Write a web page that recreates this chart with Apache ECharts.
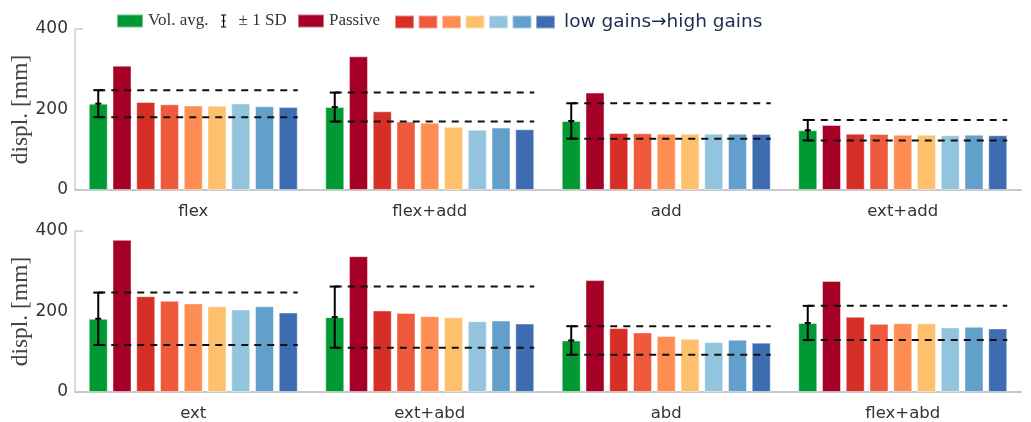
<!DOCTYPE html>
<html>
<head>
<meta charset="utf-8">
<script src="https://cdn.jsdelivr.net/npm/echarts@6/dist/echarts.min.js"></script>
<style>html,body{margin:0;padding:0;background:#fff;}#c{width:1031px;height:422px;}</style>
</head>
<body>
<div id="c"></div>
<script>
// ---- data ----
const categoriesTop = ['flex', 'flex+add', 'add', 'ext+add'];
const categoriesBottom = ['ext', 'ext+abd', 'abd', 'flex+abd'];
const yTicks = [0, 200, 400];

const volAvgTop = [214.5, 206, 171.5, 148.5];
const sdTop = [33.5, 36, 44, 25.5];
const passiveTop = [309, 332, 242, 161.5];
const gainsTop = [
  [218.6, 195.5, 141.6, 140],
  [213, 170, 140.8, 139],
  [210, 167, 140, 137.5],
  [209.5, 157, 140, 137.5],
  [215, 150, 140, 136],
  [208, 155, 140, 137.5],
  [206, 151, 139, 136]
];

const volAvgBottom = [182, 186, 128, 171.5];
const sdBottom = [65, 76, 35.5, 42.5];
const passiveBottom = [378, 337.5, 278, 276];
const gainsBottom = [
  [238, 202.5, 159, 187],
  [226.5, 196.5, 148, 169.5],
  [220, 188.5, 139, 171],
  [213, 186, 132.5, 171],
  [205, 176, 124, 160.5],
  [213, 177.5, 130, 162],
  [197.5, 170, 122.5, 158]
];

const gainNames = ['gain 1', 'gain 2', 'gain 3', 'gain 4', 'gain 5', 'gain 6', 'gain 7'];
const gainColors = ['#d62f27', '#ef5a3c', '#fd8d52', '#fec06c', '#93c4de', '#629fca', '#3e6cb0'];
const greenColor = '#009933';
const passiveColor = '#a50026';

// ---- layout / style ----
const BAR_W = 19;
const BAR_GAP = 0.25;
const NBARS = 9;
const sansFont = 'DejaVu Sans';
const serifFont = 'Liberation Serif';

function renderErr(params, api) {
  const ci = api.value(0), mean = api.value(1), sd = api.value(2);
  const c = api.coord([ci, mean]);
  const hi = api.coord([ci, mean + sd])[1];
  const lo = api.coord([ci, mean - sd])[1];
  const pitch = BAR_W * (1 + BAR_GAP);
  const gx = c[0] - (NBARS - 1) / 2 * pitch;
  const xEnd = c[0] + (NBARS - 1) / 2 * pitch + BAR_W / 2;
  const cap = 5;
  const solid = { stroke: '#000', lineWidth: 2 };
  const dash = { stroke: '#111', lineWidth: 2, lineDash: [7, 6] };
  return {
    type: 'group',
    children: [
      { type: 'line', shape: { x1: gx, y1: hi, x2: xEnd, y2: hi }, style: dash },
      { type: 'line', shape: { x1: gx, y1: lo, x2: xEnd, y2: lo }, style: dash },
      { type: 'line', shape: { x1: gx, y1: hi, x2: gx, y2: lo }, style: solid },
      { type: 'line', shape: { x1: gx - cap, y1: hi, x2: gx + cap, y2: hi }, style: solid },
      { type: 'line', shape: { x1: gx - cap, y1: lo, x2: gx + cap, y2: lo }, style: solid },
      { type: 'line', shape: { x1: gx - 3, y1: c[1], x2: gx + 3, y2: c[1] }, style: solid }
    ]
  };
}

function panelSeries(idx, avg, sd, passive, gains) {
  const common = { type: 'bar', xAxisIndex: idx, yAxisIndex: idx, barWidth: BAR_W, barGap: (BAR_GAP * 100) + '%',
    itemStyle: { borderColor: 'rgba(255,255,255,0.45)', borderWidth: 1 } };
  const s = [];
  s.push(Object.assign({}, common, { name: 'Vol. avg.', data: avg, itemStyle: Object.assign({}, common.itemStyle, { color: greenColor }) }));
  s.push(Object.assign({}, common, { name: 'Passive', data: passive, itemStyle: Object.assign({}, common.itemStyle, { color: passiveColor }) }));
  gains.forEach((g, i) => {
    s.push(Object.assign({}, common, { name: gainNames[i], data: g, itemStyle: Object.assign({}, common.itemStyle, { color: gainColors[i] }) }));
  });
  s.push({
    type: 'custom', name: '± 1 SD', xAxisIndex: idx, yAxisIndex: idx, z: 10,
    itemStyle: { color: '#000' },
    renderItem: renderErr,
    encode: { x: 0, y: 1 },
    data: avg.map((m, i) => [i, m, sd[i]])
  });
  return s;
}

function xAx(idx, cats) {
  return {
    type: 'category', gridIndex: idx, data: cats,
    axisLine: { lineStyle: { color: '#c8c8c8', width: 2 } },
    axisTick: { show: false },
    axisLabel: { fontFamily: sansFont, fontSize: 16.5, color: '#333', margin: 13 }
  };
}
function yAx(idx) {
  return {
    type: 'value', gridIndex: idx, min: yTicks[0], max: yTicks[yTicks.length - 1], interval: 200,
    name: 'displ. [mm]', nameLocation: 'middle', nameGap: 42, nameMoveOverlap: false,
    nameTextStyle: { fontFamily: serifFont, fontSize: 23.5, color: '#444' },
    axisLine: { show: true, lineStyle: { color: '#cccccc', width: 1.5 } },
    axisTick: { show: true, inside: true, length: 8, customValues: [400], lineStyle: { color: '#cccccc', width: 1.5 } },
    splitLine: { show: false },
    axisLabel: { fontFamily: sansFont, fontSize: 17, color: '#333', margin: 7 }
  };
}

const serifLegend = { top: 12.5, padding: 0, itemWidth: 26, itemHeight: 13, selectedMode: false,
  textStyle: { fontFamily: serifFont, fontSize: 17, color: '#333' } };

const chart = echarts.init(document.getElementById('c'), null, { renderer: 'canvas' });
chart.setOption({
  animation: false,
  backgroundColor: '#fff',
  grid: [
    { left: 75, top: 29, width: 946, height: 161, outerBoundsMode: 'none' },
    { left: 75, top: 231, width: 946, height: 161, outerBoundsMode: 'none' }
  ],
  legend: [
    Object.assign({}, serifLegend, { left: 116, data: [{ name: 'Vol. avg.', icon: 'rect' }] }),
    Object.assign({}, serifLegend, { left: 221, itemWidth: 8,
      textStyle: Object.assign({}, serifLegend.textStyle, { padding: [0, 0, 0, 6] }),
      data: [{ name: '± 1 SD', icon: 'path://M0,0h8v1.6h-3.1v7.6h2v1.6h-2v7.6h3.1v1.6h-8v-1.6h3.1v-7.6h-2v-1.6h2v-7.6h-3.1z' }] }),
    Object.assign({}, serifLegend, { left: 297, data: [{ name: 'Passive', icon: 'rect' }] }),
    {
      left: 394, top: 12.5, padding: 0, itemWidth: 19, itemHeight: 13, itemGap: 2.5, selectedMode: false,
      textStyle: { fontFamily: sansFont, fontSize: 18.5, color: '#1b2b50', padding: [0, 0, 0, 4] },
      formatter: function (n) { return n === gainNames[gainNames.length - 1] ? 'low gains→high gains' : ''; },
      data: gainNames.map(n => ({ name: n, icon: 'rect' }))
    }
  ],
  xAxis: [xAx(0, categoriesTop), xAx(1, categoriesBottom)],
  yAxis: [yAx(0), yAx(1)],
  series: [].concat(
    panelSeries(0, volAvgTop, sdTop, passiveTop, gainsTop),
    panelSeries(1, volAvgBottom, sdBottom, passiveBottom, gainsBottom)
  )
});
</script>
</body>
</html>
